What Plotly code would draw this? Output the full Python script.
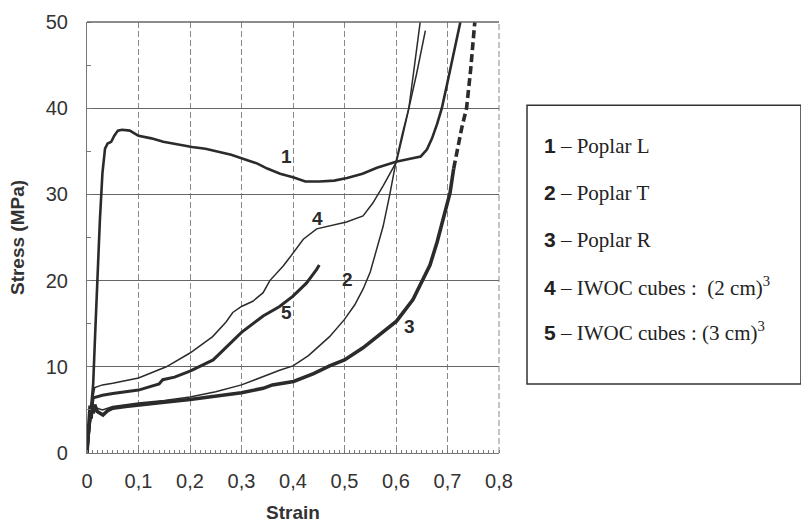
import plotly.graph_objects as go

# ---- data ----
x_poplar_L = [0, 0.006, 0.012, 0.016, 0.02, 0.025, 0.03, 0.035, 0.04, 0.047, 0.053, 0.06, 0.068, 0.083,
              0.1, 0.125, 0.148, 0.175, 0.204, 0.23, 0.252, 0.28, 0.31, 0.33, 0.35, 0.375, 0.4, 0.424,
              0.452, 0.48, 0.505, 0.535, 0.563, 0.6, 0.625, 0.648, 0.66, 0.67, 0.68, 0.689, 0.7, 0.712, 0.725]
y_poplar_L = [0, 4, 8, 14, 20, 27, 32.5, 35.3, 35.9, 36.1, 36.8, 37.4, 37.5, 37.4,
              36.8, 36.5, 36.1, 35.8, 35.5, 35.3, 35.0, 34.6, 34.0, 33.6, 33.0, 32.4, 32.0, 31.5,
              31.5, 31.6, 31.9, 32.4, 33.1, 33.8, 34.1, 34.4, 35.2, 36.5, 38.2, 40, 43, 46.5, 50]

x_poplar_T = [0, 0.004, 0.008, 0.012, 0.02, 0.03, 0.05, 0.1, 0.15, 0.2, 0.25, 0.3, 0.342, 0.374, 0.4,
              0.43, 0.471, 0.5, 0.52, 0.536, 0.55, 0.562, 0.575, 0.588, 0.6, 0.612, 0.625, 0.636, 0.647]
y_poplar_T = [0, 2.5, 4.2, 5, 5.2, 5.0, 5.4, 5.8, 6.1, 6.5, 7.1, 7.9, 8.9, 9.6, 10.1,
              11.3, 13.5, 15.5, 17.2, 19, 21, 23.6, 26.3, 30, 33.8, 37, 40, 45, 50]

x_poplar_R = [0, 0.002, 0.004, 0.006, 0.008, 0.01, 0.012, 0.015, 0.02, 0.025, 0.031, 0.04, 0.05, 0.075,
              0.1, 0.15, 0.2, 0.25, 0.3, 0.342, 0.36, 0.401, 0.44, 0.471, 0.5, 0.536, 0.568, 0.601,
              0.633, 0.652, 0.666, 0.68, 0.693, 0.705, 0.712]
y_poplar_R = [0, 2, 3.5, 5.5, 4, 5.8, 4.6, 5.6, 4.8, 4.6, 4.4, 4.9, 5.2, 5.4,
              5.6, 5.9, 6.2, 6.6, 7.0, 7.5, 7.9, 8.3, 9.2, 10.1, 10.8, 12.2, 13.7, 15.3,
              17.8, 20.1, 21.8, 24.5, 27.3, 30.2, 33]
x_poplar_R_ext = [0.712, 0.72, 0.728, 0.737, 0.745, 0.753]
y_poplar_R_ext = [33, 35.5, 37.8, 40, 44.5, 50]

x_iwoc_2 = [0, 0.005, 0.01, 0.015, 0.03, 0.05, 0.1, 0.154, 0.2, 0.244, 0.27, 0.283, 0.3, 0.322, 0.342,
            0.355, 0.381, 0.394, 0.407, 0.42, 0.446, 0.475, 0.504, 0.536, 0.555, 0.575, 0.601, 0.613,
            0.625, 0.64, 0.657]
y_iwoc_2 = [0, 3, 6, 7.6, 7.9, 8.1, 8.7, 10, 11.6, 13.5, 15.2, 16.3, 17, 17.6, 18.6,
            20, 21.7, 22.7, 23.7, 24.8, 26, 26.4, 26.8, 27.5, 29, 31, 33.8, 36.8,
            40, 44, 49]

x_iwoc_3 = [0, 0.005, 0.012, 0.03, 0.05, 0.1, 0.14, 0.147, 0.17, 0.2, 0.245, 0.277, 0.3, 0.342,
            0.374, 0.4, 0.426, 0.446, 0.451]
y_iwoc_3 = [0, 3.5, 6.4, 6.7, 6.9, 7.3, 8.0, 8.5, 8.8, 9.5, 10.8, 12.6, 14, 15.9,
            17, 18.2, 19.7, 21.3, 21.8]

x_tick_vals = [0, 0.1, 0.2, 0.3, 0.4, 0.5, 0.6, 0.7, 0.8]
x_tick_text = ["0", "0,1", "0,2", "0,3", "0,4", "0,5", "0,6", "0,7", "0,8"]
y_tick_vals = [0, 10, 20, 30, 40, 50]
y_tick_text = ["0", "10", "20", "30", "40", "50"]

curve_labels = ["1", "2", "3", "4", "5"]
curve_label_x = [0.388, 0.506, 0.627, 0.447, 0.388]
curve_label_y = [34.4, 20.1, 14.7, 27.2, 16.3]

legend_nums = ["1", "2", "3", "4", "5"]
legend_texts = ["Poplar L", "Poplar T", "Poplar R",
                "IWOC cubes :  (2 cm)<sup>3</sup>", "IWOC cubes : (3 cm)<sup>3</sup>"]

INK = "#2b2b2b"
fig = go.Figure()
fig.add_trace(go.Scatter(x=x_poplar_L, y=y_poplar_L, mode="lines", line=dict(color=INK, width=2.6)))
fig.add_trace(go.Scatter(x=x_poplar_T, y=y_poplar_T, mode="lines", line=dict(color=INK, width=1.5)))
fig.add_trace(go.Scatter(x=x_poplar_R, y=y_poplar_R, mode="lines", line=dict(color=INK, width=3.6)))
fig.add_trace(go.Scatter(x=x_poplar_R_ext, y=y_poplar_R_ext, mode="lines",
                         line=dict(color=INK, width=3.6, dash="8px,4px")))
fig.add_trace(go.Scatter(x=x_iwoc_2, y=y_iwoc_2, mode="lines", line=dict(color=INK, width=1.5)))
fig.add_trace(go.Scatter(x=x_iwoc_3, y=y_iwoc_3, mode="lines", line=dict(color=INK, width=3.0)))

for t, xv, yv in zip(curve_labels, curve_label_x, curve_label_y):
    fig.add_annotation(x=xv, y=yv, text="<b>" + t + "</b>", showarrow=False,
                       font=dict(family="Liberation Sans", size=19, color=INK))

# legend box drawn as text block
fig.add_shape(type="rect", xref="paper", yref="paper", x0=1.068, x1=1.733, y0=0.160, y1=0.807,
              line=dict(color="#333", width=1.5))
legend_y = [0.712, 0.604, 0.495, 0.387, 0.283]
for n, t, yv in zip(legend_nums, legend_texts, legend_y):
    fig.add_annotation(xref="paper", yref="paper", x=1.104, y=yv, xanchor="left", yanchor="middle",
                       showarrow=False,
                       text='<span style="font-family:Liberation Sans"><b>' + n + '</b></span> – ' + t,
                       font=dict(family="Liberation Serif", size=21, color="#222"))

# frame top / right
fig.add_shape(type="line", xref="paper", yref="paper", x0=0, x1=1, y0=1, y1=1,
              line=dict(color="#666", width=1.3))
fig.add_shape(type="line", xref="paper", yref="paper", x0=1, x1=1, y0=0, y1=1,
              line=dict(color="#888", width=1, dash="6px,3px"))

fig.update_layout(
    width=801, height=524, showlegend=False,
    margin=dict(l=87, r=302, t=22, b=71),
    paper_bgcolor="white", plot_bgcolor="white",
    font=dict(family="Liberation Sans", color="#333"),
)
fig.update_xaxes(
    range=[0, 0.8], tickvals=x_tick_vals, ticktext=x_tick_text, automargin=False,
    tickfont=dict(size=20, color="#333"), ticks="", ticklabelstandoff=10,
    showgrid=True, gridcolor="#888", gridwidth=1, griddash="6px,3px",
    showline=True, linecolor="#777", linewidth=1.2, zeroline=False,
    minor=dict(dtick=0.01, ticks="inside", ticklen=3, tickcolor="#777", showgrid=False),
    title=dict(text="<b>Strain</b>", font=dict(size=19, color="#333"), standoff=14),
)
fig.update_yaxes(
    range=[0, 50], tickvals=y_tick_vals, ticktext=y_tick_text, automargin=False,
    tickfont=dict(size=20, color="#333"), ticks="", ticklabelstandoff=14,
    showgrid=True, gridcolor="#666", gridwidth=1.3,
    showline=True, linecolor="#777", linewidth=1.2, zeroline=False,
    minor=dict(dtick=5, ticks="inside", ticklen=4, tickcolor="#777", showgrid=False),
    title=dict(text="<b>Stress (MPa)</b>", font=dict(size=19, color="#333"), standoff=16),
)

fig.write_html("out.html", config={"displayModeBar": False},
               post_script="document.body.style.margin='0px';")
